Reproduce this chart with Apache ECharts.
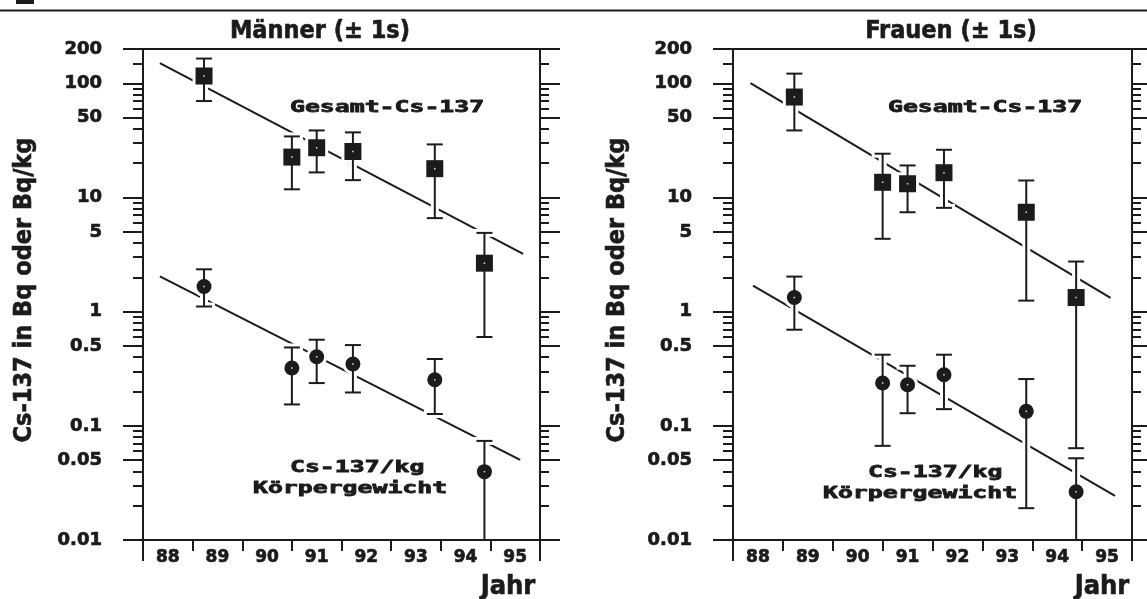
<!DOCTYPE html>
<html>
<head>
<meta charset="utf-8">
<script src="https://cdn.jsdelivr.net/npm/echarts@6/dist/echarts.min.js"></script>
<style>
  html, body { margin: 0; padding: 0; background: #fff; }
  #chart { width: 1147px; height: 599px; }
</style>
</head>
<body>
<div id="chart"></div>
<script>
// Survey dates (year within the 1900s) and year labels of the x axis
const years = [89.23, 91.0, 91.5, 92.23, 93.88, 94.88];
const yearLabels = ['88', '89', '90', '91', '92', '93', '94', '95'];

// Männer: whole-body Cs-137 (Bq), mean with ±1s bounds
const menTotal = [116, 22.6, 27.3, 25.3, 17.9, 2.66];
const menTotalLow = [70, 11.8, 16.6, 14.2, 6.6, 0.60];
const menTotalHigh = [165, 34.3, 38.7, 37.2, 29.2, 4.9];
// Männer: Cs-137 per kg body weight (Bq/kg)
const menPerKg = [1.66, 0.321, 0.403, 0.348, 0.253, 0.0397];
const menPerKgLow = [1.11, 0.154, 0.237, 0.196, 0.127, 0.01];
const menPerKgHigh = [2.35, 0.486, 0.568, 0.510, 0.385, 0.0738];

// Frauen: whole-body Cs-137 (Bq)
const womenTotal = [75.9, 13.6, 13.2, 16.5, 7.43, 1.33];
const womenTotalLow = [38.7, 4.35, 7.43, 8.12, 1.25, 0.0637];
const womenTotalHigh = [121.7, 24.2, 19.1, 26.2, 14.1, 2.75];
// Frauen: Cs-137 per kg body weight (Bq/kg)
const womenPerKg = [1.33, 0.237, 0.229, 0.280, 0.134, 0.0265];
const womenPerKgLow = [0.695, 0.0668, 0.129, 0.140, 0.019, 0.01];
const womenPerKgHigh = [2.03, 0.420, 0.336, 0.420, 0.257, 0.052];

// Fitted exponential decay lines: [start, end] year and value
const menTotalTrendX = [88.34, 95.66];
const menTotalTrendY = [150.6, 3.21];
const menPerKgTrendX = [88.34, 95.6];
const menPerKgTrendY = [2.04, 0.0503];
const womenTotalTrendX = [88.35, 95.57];
const womenTotalTrendY = [100.6, 1.32];
const womenPerKgTrendX = [88.4, 95.66];
const womenPerKgTrendY = [1.69, 0.0243];

// Logarithmic y axis: labelled (long) and unlabelled (short) ticks
const majorTicks = [200, 100, 50, 10, 5, 1, 0.5, 0.1, 0.05, 0.01];
const minorTicks = [150, 90, 80, 70, 60, 40, 30, 20,
  9, 8, 7, 6, 4, 3, 2, 0.9, 0.8, 0.7, 0.6, 0.4, 0.3, 0.2,
  0.09, 0.08, 0.07, 0.06, 0.04, 0.03, 0.02];

const ink = '#1b1b1b';
const Y_MIN = 0.01, Y_MAX = 200;
const X_MIN = 88, X_MAX = 96;

const chart = echarts.init(document.getElementById('chart'), null, { renderer: 'canvas' });

function points(xs, ys, lo, hi) {
  return xs.map((x, i) => [x, ys[i], lo[i], hi[i]]);
}
function pairs(xs, ys) {
  return xs.map((x, i) => [x, ys[i]]);
}

// Error bar with caps plus a square or round marker; a white outline
// keeps the trend line from running through the symbols.
function errorBarItem(marker) {
  return function (params, api) {
    const x = api.value(0);
    const lo = api.value(2), hi = api.value(3);
    const c = api.coord([x, api.value(1)]);
    const pl = api.coord([x, lo]);
    const ph = api.coord([x, hi]);
    const capHalf = 8;
    const halo = 3;
    const lw = 2;
    const atFloor = lo <= Y_MIN * 1.0001;
    const caps = [ph[1]];
    if (!atFloor) caps.push(pl[1]);
    const children = [];
    // white outlines
    children.push({ type: 'line', shape: { x1: c[0], y1: ph[1] - halo, x2: c[0], y2: atFloor ? pl[1] - 2 : pl[1] + halo },
      style: { stroke: '#fff', lineWidth: lw + 2 * halo } });
    caps.forEach(cy => children.push({ type: 'line',
      shape: { x1: c[0] - capHalf - halo, y1: cy, x2: c[0] + capHalf + halo, y2: cy },
      style: { stroke: '#fff', lineWidth: lw + 2 * halo } }));
    if (marker === 'square') {
      const s = 17 + 2 * halo;
      children.push({ type: 'rect', shape: { x: c[0] - s / 2, y: c[1] - s / 2, width: s, height: s }, style: { fill: '#fff' } });
    } else {
      children.push({ type: 'circle', shape: { cx: c[0], cy: c[1], r: 7.5 + halo }, style: { fill: '#fff' } });
    }
    // ink
    children.push({ type: 'line', shape: { x1: c[0], y1: ph[1], x2: c[0], y2: pl[1] },
      style: { stroke: ink, lineWidth: lw } });
    caps.forEach(cy => children.push({ type: 'line',
      shape: { x1: c[0] - capHalf, y1: cy, x2: c[0] + capHalf, y2: cy },
      style: { stroke: ink, lineWidth: lw } }));
    if (marker === 'square') {
      children.push({ type: 'rect', shape: { x: c[0] - 8.5, y: c[1] - 8.5, width: 17, height: 17 }, style: { fill: ink } });
    } else {
      children.push({ type: 'circle', shape: { cx: c[0], cy: c[1], r: 7.5 }, style: { fill: ink } });
    }
    children.push({ type: 'rect', shape: { x: c[0] - 0.75, y: c[1] - 0.75, width: 1.5, height: 1.5 }, style: { fill: '#e0e0e0' } });
    return { type: 'group', children: children };
  };
}

const tickFont = { fontFamily: 'DejaVu Sans', fontWeight: 'bold', fontSize: 18, color: ink,
  textBorderColor: ink, textBorderWidth: 0.7 };
const axisLineStyle = { color: ink, width: 2 };

function xAxesFor(g) {
  return [
    { gridIndex: g, type: 'value', min: X_MIN, max: X_MAX, interval: 1, position: 'bottom', z: 10,
      axisLine: { show: true, onZero: false, lineStyle: axisLineStyle },
      axisTick: { show: true, length: 11, lineStyle: axisLineStyle },
      axisLabel: { show: false }, splitLine: { show: false } },
    { gridIndex: g, type: 'value', min: X_MIN, max: X_MAX, position: 'bottom', z: 10,
      axisLine: { show: false, onZero: false },
      axisTick: { show: true, customValues: [X_MIN, X_MAX], length: 21, lineStyle: axisLineStyle },
      axisLabel: { show: false }, splitLine: { show: false } },
    { gridIndex: g, type: 'category', data: yearLabels, position: 'bottom', boundaryGap: true, z: 10,
      axisLine: { show: false, onZero: false }, axisTick: { show: false },
      axisLabel: Object.assign({ show: true, interval: 0, margin: 9 }, tickFont, { fontSize: 17 }),
      splitLine: { show: false } },
    { gridIndex: g, type: 'value', min: X_MIN, max: X_MAX, position: 'top', z: 10,
      axisLine: { show: true, onZero: false, lineStyle: axisLineStyle },
      axisTick: { show: false }, axisLabel: { show: false }, splitLine: { show: false } }
  ];
}

function yAxesFor(g) {
  const base = { gridIndex: g, type: 'log', logBase: 10, min: Y_MIN, max: Y_MAX, z: 10, splitLine: { show: false } };
  return [
    Object.assign({}, base, { position: 'left',
      axisLine: { show: true, onZero: false, lineStyle: axisLineStyle },
      axisTick: { show: true, customValues: majorTicks, length: 20, lineStyle: axisLineStyle },
      axisLabel: Object.assign({ show: true, customValues: majorTicks, margin: 41, padding: [10, 0, 0, 0],
        formatter: v => String(Math.round(v * 1000) / 1000) }, tickFont) }),
    Object.assign({}, base, { position: 'left',
      axisLine: { show: false, onZero: false },
      axisTick: { show: true, customValues: minorTicks, length: 10, lineStyle: axisLineStyle },
      axisLabel: { show: false } }),
    Object.assign({}, base, { position: 'right',
      axisLine: { show: true, onZero: false, lineStyle: axisLineStyle },
      axisTick: { show: true, customValues: majorTicks, length: 20, lineStyle: axisLineStyle },
      axisLabel: { show: false } }),
    Object.assign({}, base, { position: 'right',
      axisLine: { show: false, onZero: false },
      axisTick: { show: true, customValues: minorTicks, length: 9, lineStyle: axisLineStyle },
      axisLabel: { show: false } })
  ];
}

function panelSeries(g, total, perKg, totalTrend, perKgTrend) {
  const xi = g * 4, yi = g * 4;
  const trend = data => ({ type: 'line', xAxisIndex: xi, yAxisIndex: yi, data: data, symbol: 'none',
    silent: true, z: 1, lineStyle: { color: ink, width: 2 } });
  const bars = (data, marker) => ({ type: 'custom', xAxisIndex: xi, yAxisIndex: yi, data: data, z: 3,
    silent: true, encode: { x: 0, y: 1 }, renderItem: errorBarItem(marker) });
  return [trend(totalTrend), trend(perKgTrend), bars(total, 'square'), bars(perKg, 'circle')];
}

const labelFont = 'bold 16px "DejaVu Sans Mono", monospace';
const headFont = 'bold 25px "DejaVu Sans Condensed", "DejaVu Sans", sans-serif';
function note(text, x, y) {
  return { type: 'text', x: x, y: y, scaleX: 1.55, z: 20,
    style: { text: text, font: labelFont, fill: ink, stroke: ink, lineWidth: 0.8,
      textAlign: 'left', textVerticalAlign: 'middle' } };
}
function head(text, x, y, font) {
  return { type: 'text', x: x, y: y, z: 20,
    style: { text: text, font: font || headFont, fill: ink, stroke: ink, lineWidth: 0.6,
      textAlign: 'center', textVerticalAlign: 'middle' } };
}
function yTitle(x, y, size) {
  return { type: 'text', x: x, y: y, rotation: Math.PI / 2, z: 20,
    style: { text: 'Cs-137 in Bq oder Bq/kg', font: 'bold ' + size + 'px "DejaVu Sans Condensed", "DejaVu Sans", sans-serif',
      fill: ink, stroke: ink, lineWidth: 0.6, textAlign: 'center', textVerticalAlign: 'middle' } };
}

const option = {
  backgroundColor: '#ffffff',
  animation: false,
  grid: [
    { left: 143, top: 49, width: 397, height: 491, outerBoundsMode: 'none', containLabel: false },
    { left: 733, top: 49, width: 399, height: 491, outerBoundsMode: 'none', containLabel: false }
  ],
  xAxis: xAxesFor(0).concat(xAxesFor(1)),
  yAxis: yAxesFor(0).concat(yAxesFor(1)),
  series: []
    .concat(panelSeries(0,
      points(years, menTotal, menTotalLow, menTotalHigh),
      points(years, menPerKg, menPerKgLow, menPerKgHigh),
      pairs(menTotalTrendX, menTotalTrendY),
      pairs(menPerKgTrendX, menPerKgTrendY)))
    .concat(panelSeries(1,
      points(years, womenTotal, womenTotalLow, womenTotalHigh),
      points(years, womenPerKg, womenPerKgLow, womenPerKgHigh),
      pairs(womenTotalTrendX, womenTotalTrendY),
      pairs(womenPerKgTrendX, womenPerKgTrendY))),
  graphic: [
    { type: 'rect', shape: { x: 16, y: 0, width: 18, height: 4 }, style: { fill: ink } },
    { type: 'line', shape: { x1: 0, y1: 10.5, x2: 1147, y2: 10.5 }, style: { stroke: ink, lineWidth: 2 } },
    head('Männer (± 1s)', 320, 31),
    head('Frauen (± 1s)', 951, 31),
    head('Jahr', 508, 587, 'bold 27px "DejaVu Sans Condensed", "DejaVu Sans", sans-serif'),
    head('Jahr', 1102, 587, 'bold 27px "DejaVu Sans Condensed", "DejaVu Sans", sans-serif'),
    yTitle(24, 290, 25),
    yTitle(617, 290, 25),
    note('Gesamt-Cs-137', 290, 108),
    note('Cs-137/kg', 290, 468),
    note('Körpergewicht', 253, 489),
    note('Gesamt-Cs-137', 888, 108),
    note('Cs-137/kg', 868, 473),
    note('Körpergewicht', 823, 494)
  ]
};

chart.setOption(option);
</script>
</body>
</html>
